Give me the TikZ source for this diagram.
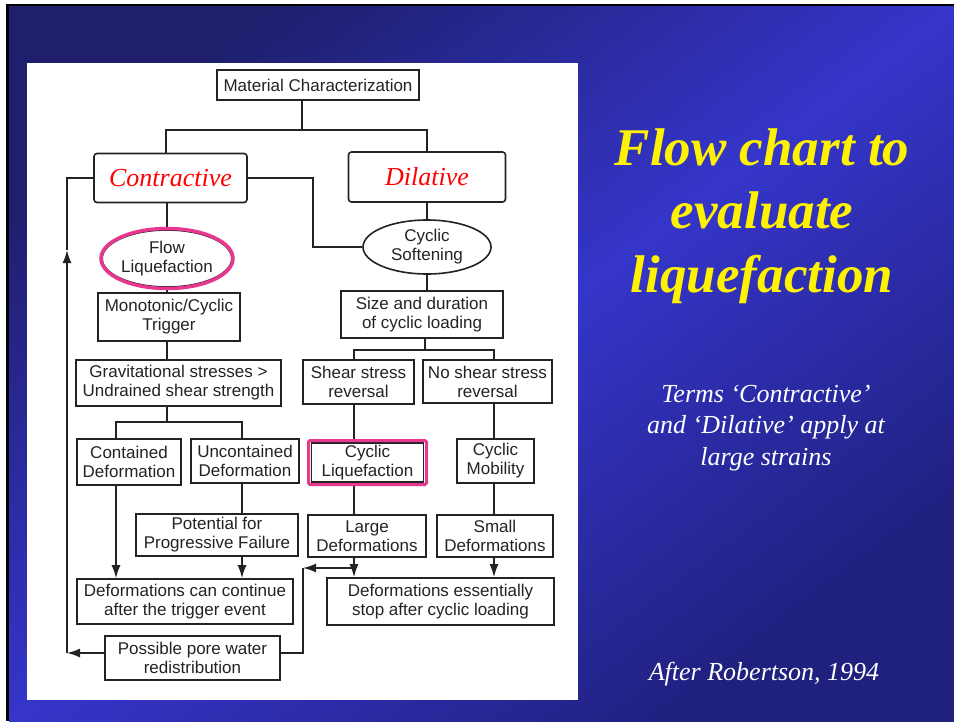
\documentclass[tikz,border=0pt]{standalone}
\usepackage{fontspec}
\setmainfont{Liberation Sans}
\newfontfamily\serifit{Liberation Serif}
\usetikzlibrary{shapes.geometric,arrows.meta}
\definecolor{lncol}{HTML}{232323}
\definecolor{pinkc}{HTML}{E8388E}
\definecolor{bgA}{HTML}{1F1F6E}
\definecolor{bgB}{HTML}{3535CA}
\definecolor{bgC}{HTML}{20207E}
\pgfdeclarehorizontalshading{slidebg}{100bp}{color(0bp)=(bgA); color(25bp)=(bgA); color(50bp)=(bgB); color(75bp)=(bgC); color(100bp)=(bgC)}
\tikzset{
  bx/.style={draw=lncol, line width=1.6pt, fill=white, text=lncol, align=center, inner sep=0pt, font=\fontsize{17}{19}\selectfont},
  rbx/.style={bx, rounded corners=3pt, font=\serifit\itshape\fontsize{26}{30}\selectfont, text=red},
  ell/.style={bx, ellipse},
  wire/.style={draw=lncol, line width=1.6pt},
  arr/.style={wire, -{Latex[length=13pt,width=9pt]}},
  ring/.style={draw=pinkc, inner sep=0pt},
}
\begin{document}
\begin{tikzpicture}[x=1pt,y=-1pt]
\useasboundingbox (0,0) rectangle (954,721);
\fill[white] (0,0) rectangle (954,721);
\fill[black] (6,4) rectangle (954,721);
\shade[shading=slidebg, shading angle=-53] (9,6) rectangle (954,721);
\fill[white] (27,63) rectangle (578,700);

% nodes
\node[bx, minimum width=202pt, minimum height=30pt] (mc) at (318,85) {Material Characterization};
\node[rbx, minimum width=153pt, minimum height=49pt] (con) at (170.5,178) {Contractive};
\node[rbx, minimum width=157pt, minimum height=50pt] (dil) at (427,177) {Dilative};
\node[ell, minimum width=128pt, minimum height=57pt] (flow) at (167,258.5) {Flow\\Liquefaction};
\node[ell, minimum width=128pt, minimum height=54pt] (soft) at (427,247) {Cyclic\\Softening};
\node[bx, minimum width=162pt, minimum height=47pt] (size) at (422,314.5) {Size and duration\\of cyclic loading};
\node[bx, minimum width=142pt, minimum height=48pt] (trig) at (169,317) {Monotonic/Cyclic\\Trigger};
\node[bx, minimum width=205pt, minimum height=46pt] (grav) at (178.5,383) {Gravitational stresses >\\Undrained shear strength};
\node[bx, minimum width=104pt, minimum height=46pt] (cont) at (129,462) {Contained\\Deformation};
\node[bx, minimum width=108pt, minimum height=44pt] (uncont) at (245,461) {Uncontained\\Deformation};
\node[bx, minimum width=162pt, minimum height=42pt] (pot) at (217,535) {Potential for\\Progressive Failure};
\node[bx, minimum width=216pt, minimum height=45pt] (dcc) at (185,601.5) {Deformations can continue\\after the trigger event};
\node[bx, minimum width=175pt, minimum height=44pt] (pore) at (192.5,658) {Possible pore water\\redistribution};
\node[bx, minimum width=111pt, minimum height=44pt] (shear) at (358.5,382) {Shear stress\\reversal};
\node[bx, minimum width=129pt, minimum height=43pt] (noshear) at (487.5,381.5) {No shear stress\\reversal};
\node[bx, minimum width=112pt, minimum height=39pt] (cliq) at (367.5,462.5) {Cyclic\\Liquefaction};
\node[bx, minimum width=77pt, minimum height=44pt] (cmob) at (495.5,461) {Cyclic\\Mobility};
\node[bx, minimum width=118pt, minimum height=42pt] (large) at (367,536) {Large\\Deformations};
\node[bx, minimum width=116pt, minimum height=42pt] (small) at (495,536) {Small\\Deformations};
\node[bx, minimum width=227pt, minimum height=47pt] (dstop) at (440.5,601.5) {Deformations essentially\\stop after cyclic loading};

% connectors, left branch
\coordinate (jm) at (302,130);
\coordinate (ja) at (166,130);
\coordinate (jb) at (427,130);
\draw[wire] (mc.south -| jm) -- (jm);
\draw[wire] (con.north -| ja) -- (ja) -- (jb) -- (dil.north -| jb);
\draw[wire] (con.east) -- ++(65,0) |- (soft.west);
\draw[wire] (dil.south) -- (soft.north);
\draw[wire] (soft.south) -- (soft.south |- size.north);
\draw[wire] (flow.north |- con.south) -- (flow.north);
\draw[wire] (flow.south) -- (flow.south |- trig.north);
\draw[wire] (trig.south -| flow.south) -- (grav.north -| flow.south);
\coordinate (jg) at (167,422);
\coordinate (jc) at (116,422);
\coordinate (ju) at (242,422);
\draw[wire] (grav.south -| jg) -- (jg);
\draw[wire] (cont.north -| jc) -- (jc) -- (ju) -- (uncont.north -| ju);
\draw[arr] (cont.south -| jc) -- (dcc.north -| jc);
\draw[wire] (uncont.south -| ju) -- (pot.north -| ju);
\draw[arr] (pot.south -| ju) -- (dcc.north -| ju);

% right branch
\coordinate (js) at (425,350);
\coordinate (jsh) at (354,350);
\coordinate (jns) at (494,350);
\draw[wire] (size.south -| js) -- (js);
\draw[wire] (shear.north -| jsh) -- (jsh) -- (jns) -- (noshear.north -| jns);
\draw[wire] (shear.south -| jsh) -- (cliq.north -| jsh);
\draw[wire] (cliq.south -| jsh) -- (large.north -| jsh);
\draw[wire] (noshear.south -| jns) -- (cmob.north -| jns);
\draw[wire] (cmob.south -| jns) -- (small.north -| jns);
\draw[arr] (large.south -| jsh) -- (dstop.north -| jsh);
\draw[arr] (small.south -| jns) -- (dstop.north -| jns);

% feedback loop
\coordinate (fbA) at (354,568);
\coordinate (fbB) at (303,568);
\coordinate (fbC) at (303,653);
\coordinate (fbD) at (67,653);
\coordinate (fbE) at (67,250);
\draw[arr] (fbA) -- (fbB);
\draw[wire] (fbB) -- (fbC) -- (pore.east |- fbC);
\draw[arr] (pore.west |- fbD) -- (fbD);
\draw[arr] (fbD) -- (fbE);
\draw[wire] (fbE) |- (con.west);

% pink highlight rings
\node[ring, ellipse, line width=3.5pt, minimum width=132pt, minimum height=60pt] (flowring) at (flow) {};
\node[ring, rectangle, rounded corners=1.5pt, line width=3pt, minimum width=118pt, minimum height=44pt] (cliqring) at (cliq) {};

% slide text
\node[font=\serifit\bfseries\itshape\fontsize{53}{63.5}\selectfont, text=yellow, align=center] (title) at (762,216) {Flow chart to\\evaluate\\liquefaction};
\node[font=\serifit\itshape\fontsize{26}{31.5}\selectfont, text=white, align=center] (note) at (766,428) {Terms ‘Contractive’\\and ‘Dilative’ apply at\\large strains};
\node[font=\serifit\itshape\fontsize{26}{31}\selectfont, text=white, anchor=base] (cite) at (764,680) {After Robertson, 1994};
\end{tikzpicture}
\end{document}
